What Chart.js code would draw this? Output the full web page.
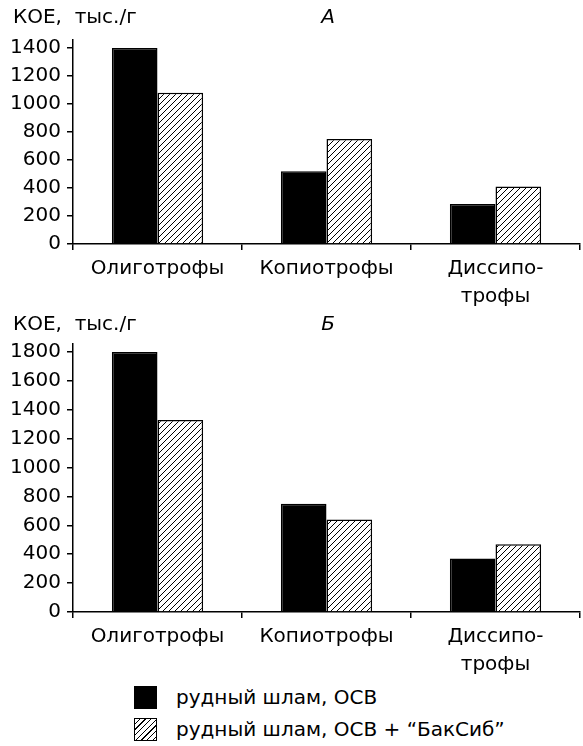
<!DOCTYPE html>
<html>
<head>
<meta charset="utf-8">
<script src="https://cdn.jsdelivr.net/npm/chart.js@4"></script>
<style>
    body { margin: 0; background: #fff; }
    #page { position: relative; width: 583px; height: 746px; overflow: hidden; }
    #chartA { position: absolute; left: 0; top: 0; }
    #chartB { position: absolute; left: 0; top: 306px; }
    #legend { position: absolute; left: 134px; top: 681px; font-family: "DejaVu Sans", sans-serif; font-size: 20px; color: #000; }
    .item { height: 32px; display: flex; align-items: center; }
    .swatch { width: 23px; height: 23px; box-sizing: border-box; margin-right: 19px; }
    .solid { background: #000; }
    .hatch { border: 1.5px solid #000; background: repeating-linear-gradient(135deg, #fff 0 3px, #000 3px 4px); }
</style>
</head>
<body>
<div id="page">
    <canvas id="chartA" width="583" height="306"></canvas>
    <canvas id="chartB" width="583" height="374"></canvas>
    <div id="legend">
        <div class="item"><div class="swatch solid"></div><span id="leg0"></span></div>
        <div class="item"><div class="swatch hatch"></div><span id="leg1"></span></div>
    </div>
</div>
<script>
const categories = ["Олиготрофы", "Копиотрофы", ["Диссипо-", "трофы"]];
const seriesNames = ["рудный шлам, ОСВ", "рудный шлам, ОСВ + “БакСиб”"];

// panel A
const oreA = [1400, 520, 285];
const bakA = [1080, 750, 410];
const ticksA = [0, 200, 400, 600, 800, 1000, 1200, 1400];

// panel B
const oreB = [1800, 750, 370];
const bakB = [1330, 640, 470];
const ticksB = [0, 200, 400, 600, 800, 1000, 1200, 1400, 1600, 1800];

const yTitle = "КОЕ,  тыс./г";
const FONT = "DejaVu Sans";
const SIZE = 20;

// diagonal hatch pattern for the second series
function makeHatch() {
    const s = 6;
    const c = document.createElement("canvas");
    c.width = s;
    c.height = s;
    const g = c.getContext("2d");
    g.fillStyle = "#fff";
    g.fillRect(0, 0, s, s);
    g.strokeStyle = "#000";
    g.lineWidth = 1;
    g.beginPath();
    g.moveTo(0, s); g.lineTo(s, 0);
    g.moveTo(-1, 1); g.lineTo(1, -1);
    g.moveTo(s - 1, s + 1); g.lineTo(s + 1, s - 1);
    g.stroke();
    return g.createPattern(c, "repeat");
}

// draws the y title and the panel letter above the plot
const headerText = {
    id: "headerText",
    afterDraw(chart, args, opts) {
        const ctx = chart.ctx;
        ctx.save();
        ctx.fillStyle = "#000";
        ctx.textBaseline = "middle";
        ctx.font = SIZE + "px '" + FONT + "'";
        ctx.textAlign = "left";
        ctx.fillText(yTitle, 13, opts.y);
        ctx.font = "italic " + SIZE + "px '" + FONT + "'";
        ctx.textAlign = "center";
        ctx.fillText(opts.letter, 328, opts.y);
        ctx.restore();
    }
};

function buildChart(id, ore, bak, tickValues, yMax, padTop, xHeight, letter, letterY) {
    const ctx = document.getElementById(id).getContext("2d");
    return new Chart(ctx, {
        type: "bar",
        data: {
            labels: categories,
            datasets: [{
                label: seriesNames[0],
                data: ore,
                backgroundColor: "#000",
                borderColor: "#000",
                borderWidth: 1.5
            }, {
                label: seriesNames[1],
                data: bak,
                backgroundColor: makeHatch(),
                borderColor: "#000",
                borderWidth: 1.5
            }]
        },
        options: {
            responsive: false,
            animation: false,
            layout: { padding: { top: padTop, right: 3, left: 0, bottom: 0 } },
            datasets: { bar: { categoryPercentage: 0.54, barPercentage: 1 } },
            plugins: {
                legend: { display: false },
                tooltip: { enabled: false },
                headerText: { letter: letter, y: letterY }
            },
            scales: {
                x: {
                    grid: { drawOnChartArea: false, tickLength: 6, color: "#000", lineWidth: 1.5, offset: true },
                    border: { color: "#000", width: 1.5 },
                    ticks: { color: "#000", padding: 5, maxRotation: 0, font: { family: FONT, size: SIZE, lineHeight: 1.4 } },
                    afterFit: scale => { scale.height = xHeight; }
                },
                y: {
                    min: 0,
                    max: yMax,
                    afterBuildTicks: scale => { scale.ticks = tickValues.map(v => ({ value: v })); },
                    grid: { drawOnChartArea: false, tickLength: 6, color: "#000", lineWidth: 1.5 },
                    border: { color: "#000", width: 1.5 },
                    ticks: { color: "#000", padding: 6, autoSkip: false, font: { family: FONT, size: SIZE }, callback: v => String(v) },
                    afterFit: scale => { scale.width = 73; }
                }
            }
        },
        plugins: [headerText]
    });
}

buildChart("chartA", oreA, bakA, ticksA, 1457, 40, 62, "А", 18);
buildChart("chartB", oreB, bakB, ticksB, 1856, 38, 68, "Б", 19);

document.getElementById("leg0").textContent = seriesNames[0];
document.getElementById("leg1").textContent = seriesNames[1];
</script>
</body>
</html>
